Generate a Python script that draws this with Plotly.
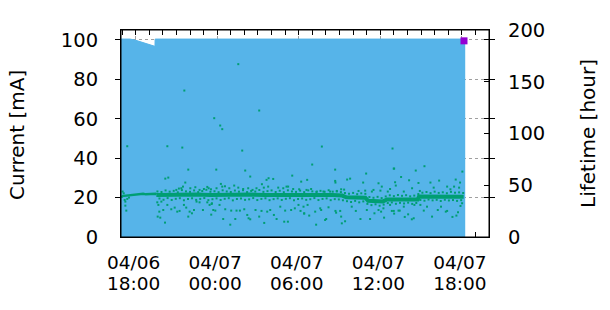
import pandas as pd
import plotly.graph_objects as go

# ---------------- data (hours relative to 04/06 18:00) ----------------
T0 = pd.Timestamp("2023-04-06 18:00")
x_start_hours = -1.08
x_end_hours = 26.0

current_hours = [-1.08, -0.42, -0.05, 0.26, 0.51, 0.74, 0.93, 1.18, 1.42, 1.43, 24.25]
current_mA = [100.4, 100.4, 99.9, 99.3, 98.8, 98.3, 97.7, 97.2, 96.7, 100.4, 100.4]

last_hours = [24.16]
last_current_mA = [99.5]

early_band_hours = [-1.02, -0.85, -0.6, -0.4, -0.37, 0.0, 0.25, 0.55, 0.75, 1.0, 1.2, 1.45, 1.52]
early_band_lifetime = [39.5, 39.8, 39.8, 40.5, 40.8, 41.0, 41.6, 41.8, 41.2, 41.3, 41.9, 41.7, 41.0]

band_hours = [1.52, 2.5, 3.5, 4.5, 5.5, 6.5, 7.5, 8.5, 9.5, 10.5, 11.5, 12.5, 13.5, 14.5,
              15.2, 15.5, 16.2, 16.9, 17.1, 17.6, 18.2, 18.5, 19.2, 19.8, 20.5, 20.75,
              20.85, 21.5, 22.3, 23.0, 23.7, 24.14]
band_lifetime = [40.6, 40.9, 40.7, 41.0, 40.6, 41.0, 40.8, 41.0, 40.7, 40.9, 40.6, 40.8, 40.6, 40.5,
                 40.0, 38.3, 37.8, 38.0, 35.0, 34.3, 34.4, 36.2, 36.4, 35.8, 36.0, 36.2,
                 39.2, 39.3, 39.4, 39.0, 39.2, 39.0]

# points in the fuzzy edges of the band
near_hours = [
    1.6, 1.9, 2.2, 2.5, 2.8, 3.1, 3.4, 3.7, 4.0, 4.3, 4.6, 4.9, 5.2, 5.5, 5.8, 6.1, 6.4, 6.7,
    7.0, 7.3, 7.6, 7.9, 8.2, 8.5, 8.8, 9.1, 9.4, 9.7, 10.0, 10.3, 10.6, 10.9, 11.2, 11.5, 11.8,
    12.1, 12.4, 12.7, 13.0, 13.3, 13.6, 13.9, 14.2, 14.5, 14.8, 15.1, 15.4, 15.7, 16.0, 16.3,
    16.6, 16.9, 17.2, 17.5, 17.8, 18.1, 18.4, 18.7, 19.0, 19.3, 19.6, 19.9, 20.2, 20.5, 20.8,
    21.1, 21.4, 21.7, 22.0, 22.3, 22.6, 22.9, 23.2, 23.5, 23.8, 24.1,
    1.75, 2.05, 2.35, 2.65, 2.95, 3.25, 3.55, 3.85, 4.15, 4.45, 4.75, 5.05, 5.35, 5.65, 5.95,
    6.25, 6.55, 6.85, 7.15, 7.45, 7.75, 8.05, 8.35, 8.65, 8.95, 9.25, 9.55, 9.85, 10.15, 10.45,
    10.75, 11.05, 11.35, 11.65, 11.95, 12.25, 12.55, 12.85, 13.15, 13.45, 13.75, 14.05, 14.35,
    14.65, 14.95, 15.25, 15.55, 15.85, 16.15, 16.45, 16.75, 17.05, 17.35, 17.65, 17.95, 18.25,
    18.55, 18.85, 19.15, 19.45, 19.75, 20.05, 20.35, 20.65, 20.95, 21.25, 21.55, 21.85, 22.15,
    22.45, 22.75, 23.05, 23.35, 23.65, 23.95,
]
near_lifetime = [
    44.0, 43.5, 45.0, 43.8, 44.6, 43.2, 45.3, 44.1, 43.6, 45.0, 43.4, 44.4, 45.6, 43.7, 44.2,
    43.3, 45.1, 44.0, 43.5, 44.9, 43.8, 45.2, 43.4, 44.5, 43.9, 45.4, 43.6, 44.3, 45.0, 43.5,
    44.7, 43.3, 45.1, 44.0, 43.6, 44.8, 43.4, 45.0, 44.1, 43.5, 44.6, 43.7, 45.2, 43.8, 44.0,
    43.4, 42.5, 41.8, 42.6, 41.4, 42.2, 41.7, 38.6, 37.9, 38.8, 37.6, 39.2, 40.3, 39.5, 40.6,
    39.8, 40.4, 39.3, 40.0, 41.5, 42.8, 43.5, 42.4, 43.8, 42.6, 43.2, 42.3, 43.6, 42.8, 43.1,
    42.5,
    37.2, 36.0, 37.6, 35.8, 36.9, 37.5, 35.5, 36.6, 37.4, 35.9, 36.8, 37.6, 35.6, 36.5, 37.3,
    35.8, 36.9, 37.5, 35.4, 36.7, 37.2, 35.9, 36.4, 37.6, 35.7, 36.8, 37.4, 35.6, 36.6, 37.3,
    35.8, 36.9, 37.5, 35.5, 36.7, 37.2, 35.9, 36.5, 37.6, 35.7, 36.8, 37.3, 35.6, 36.6, 36.3,
    35.5, 34.6, 33.8, 34.9, 33.5, 34.4, 32.0, 30.8, 31.6, 30.2, 31.3, 32.8, 33.4, 32.1, 33.0,
    32.4, 33.2, 32.0, 32.9, 35.8, 35.1, 36.2, 35.4, 35.9, 34.8, 36.0, 35.3, 35.7, 34.9, 35.6,
]

scatter_hours = [
    3.58, -0.62, 2.33, 3.43, 3.87, 2.40, 2.18, 3.65, -0.76, -0.69, 2.16, 1.81, 1.62, 3.87, 5.56,
    1.59, 1.67, 1.89, 1.74, 2.03, 2.33, 2.62, 2.87, 3.06, 3.23, 3.55, 3.72, 3.97, 4.14, 4.29, 4.48,
    4.70, 4.95, 5.27, 5.44, 5.61,
    2.99, 3.18, 3.36, 3.48, 4.02, 4.39, 4.70, 5.02, 5.27, 5.37,
    -0.96, -0.88, -0.81, -0.76, -0.62, -0.49, -1.01,
    7.55, 9.09, 5.78, 6.22, 6.37, 7.84, 8.06, 5.93, 8.43, 11.52, 9.63, 9.78, 10.12, 9.29, 11.10,
    11.22, 12.18, 6.27, 6.57, 7.25, 8.28,
    5.59, 5.71, 5.86, 6.17, 6.44, 6.59, 6.96, 7.03, 7.33, 7.42, 7.67, 7.99, 8.21, 8.31, 8.43, 8.82,
    9.09, 9.26, 9.46, 9.68, 9.90, 10.17, 10.37, 10.64, 10.93, 11.00, 11.20, 11.44, 11.71, 11.98,
    12.13, 12.40,
    5.54, 5.95, 6.37, 6.89, 7.55, 7.91, 8.60, 8.89, 9.43, 9.75, 10.49, 10.86, 11.59, 12.03,
    13.70, 18.90, 12.99, 14.68, 14.68, 14.70, 15.56, 15.78, 16.96, 16.74, 17.87, 18.11, 19.02,
    12.62, 18.72, 19.14,
    12.35, 12.40, 12.65, 12.77, 13.21, 13.28, 13.58, 13.65, 13.94, 14.02, 14.19, 14.70, 14.75,
    15.05, 15.12, 15.17, 15.41, 15.90, 16.20, 16.54, 17.25, 17.57, 17.87, 18.06, 18.28, 18.85,
    19.02, 18.72, 18.23, 17.01,
    12.57, 12.91, 13.33, 13.82, 14.31, 14.80, 15.12, 15.34, 16.40, 16.89, 17.38, 17.50, 18.01, 18.55,
    21.25, 20.61, 24.04, 18.99, 19.53, 20.12, 19.09, 20.81, 22.33, 23.55, 23.87, 23.43, 21.69,
    21.93, 22.92, 23.80, 23.16, 20.34, 20.91, 19.73,
    18.99, 19.34, 19.43, 20.05, 20.32, 20.46, 19.80, 21.44, 21.20, 21.81, 22.23, 22.47, 22.82,
    22.92, 23.31, 23.60, 23.72, 23.90, 24.02, 20.95, 20.51, 19.73,
]
scatter_lifetime = [
    141.5, 87.7, 87.7, 86.4, 65.1, 57.4, 56.4, 52.6, 30.3, 25.5, 13.9, 18.7, 19.7, 19.7, 21.6,
    33.5, 31.0, 34.2, 24.5, 26.1, 31.0, 26.8, 28.4, 24.5, 25.2, 31.0, 28.4, 24.5, 22.9, 26.1, 34.2,
    33.5, 26.1, 33.5, 31.0, 32.6,
    45.5, 46.8, 47.1, 48.7, 47.1, 48.1, 45.5, 46.4, 48.4, 47.1,
    43.9, 42.2, 35.8, 34.2, 36.8, 38.1, 39.0,
    167.0, 122.2, 114.8, 107.7, 104.2, 83.5, 64.2, 65.1, 58.4, 59.3, 55.2, 56.8, 56.1, 51.0, 48.7,
    48.7, 53.5, 51.3, 49.0, 49.7, 47.1,
    31.9, 26.1, 25.5, 31.0, 17.4, 26.8, 11.9, 25.5, 17.4, 25.5, 25.5, 26.8, 21.3, 18.1, 17.1, 26.1,
    19.7, 25.2, 13.6, 24.5, 26.1, 21.3, 17.4, 29.3, 14.8, 25.5, 14.8, 26.1, 27.7, 31.0,
    25.2, 22.6,
    46.1, 47.1, 48.7, 47.1, 47.7, 46.4, 45.5, 47.1, 47.7, 48.7, 47.7, 47.1, 46.4, 46.1,
    87.4, 85.5, 70.0, 65.1, 54.2, 52.6, 55.5, 56.4, 61.3, 52.6, 51.9, 48.7, 66.1,
    55.2, 46.4, 49.7,
    29.3, 22.9, 31.0, 20.7, 24.5, 11.9, 27.7, 26.1, 16.4, 17.4, 28.7, 25.2, 23.5,
    25.2, 19.7, 13.2, 15.2, 29.3, 25.2, 17.4, 17.4, 22.9, 26.1, 24.5, 18.7, 25.2,
    22.6, 31.0, 27.7, 26.1,
    45.5, 46.4, 43.9, 43.9, 43.9, 44.5, 46.1, 45.8, 44.5, 44.8, 43.9, 45.5, 44.8, 43.9,
    68.4, 64.2, 63.2, 66.1, 58.0, 54.8, 52.9, 52.2, 54.5, 55.5, 52.6, 48.7, 52.6,
    47.7, 48.7, 47.7, 46.1, 47.1, 44.5, 43.9,
    25.2, 25.5, 25.5, 21.9, 17.1, 18.1, 19.4, 29.3, 25.5, 19.7, 26.1, 29.3, 24.5,
    25.2, 19.4, 20.7, 23.9, 30.0, 32.6, 31.0, 31.0, 29.3,
]

y_left_range = [0, 105]
y_right_range = [0, 200]

BLUE = "#56b4e9"
GREEN = "#009e73"
PURPLE = "#9400d3"
FONT = "DejaVu Sans"
FS = 19.5
FS_X = 18.5


def to_time(hours):
    return [T0 + pd.Timedelta(hours=h) for h in hours]


x_range = [T0 + pd.Timedelta(hours=x_start_hours), T0 + pd.Timedelta(hours=x_end_hours)]

fig = go.Figure()

fig.add_trace(go.Scatter(
    x=to_time(current_hours), y=current_mA, mode="lines",
    line=dict(color=BLUE, width=1), fill="tozeroy", fillcolor=BLUE,
    yaxis="y", hoverinfo="skip"))

fig.add_trace(go.Scatter(
    x=to_time(last_hours), y=last_current_mA, mode="markers",
    marker=dict(symbol="square", size=7, color=PURPLE, line=dict(width=0)),
    yaxis="y", hoverinfo="skip"))

fig.add_trace(go.Scatter(
    x=to_time(early_band_hours), y=early_band_lifetime, mode="lines",
    line=dict(color=GREEN, width=2.5), yaxis="y2", hoverinfo="skip"))

fig.add_trace(go.Scatter(
    x=to_time(band_hours), y=band_lifetime, mode="lines",
    line=dict(color=GREEN, width=4), yaxis="y2", hoverinfo="skip"))

fig.add_trace(go.Scatter(
    x=to_time(near_hours), y=near_lifetime, mode="markers",
    marker=dict(symbol="square", size=2, color=GREEN, line=dict(width=0)),
    yaxis="y2", hoverinfo="skip"))

fig.add_trace(go.Scatter(
    x=to_time(scatter_hours), y=scatter_lifetime, mode="markers",
    marker=dict(symbol="square", size=2, color=GREEN, line=dict(width=0)),
    yaxis="y2", hoverinfo="skip"))

# invisible trace so the second (time-of-day label) x axis is drawn
fig.add_trace(go.Scatter(
    x=x_range, y=[None, None], mode="markers", xaxis="x2", yaxis="y",
    showlegend=False, hoverinfo="skip"))

grid = dict(showgrid=True, gridcolor="#a0a0a0", gridwidth=1, griddash="3px,3px")

fig.update_layout(
    width=610, height=310,
    margin=dict(l=121, r=121, t=30, b=73, pad=0),
    paper_bgcolor="white", plot_bgcolor="white",
    showlegend=False,
    font=dict(family=FONT, size=FS, color="black"),
    xaxis=dict(
        type="date", range=x_range,
        tick0=T0, dtick=6 * 3600000, tickformat="%m/%d",
        tickfont=dict(family=FONT, size=FS_X, color="black"),
        ticks="inside", ticklen=5, tickcolor="black", tickwidth=1,
        mirror="allticks", showline=True, linecolor="black", linewidth=1,
        layer="below traces", zeroline=False, ticklabelstandoff=9, ticklabelshift=-2,
        minor=dict(ticks="inside", ticklen=3, tickcolor="black", dtick=3600000,
                   tick0=T0, showgrid=False),
        **grid),
    xaxis2=dict(
        type="date", range=x_range, overlaying="x", side="bottom", anchor="y",
        tick0=T0, dtick=6 * 3600000, tickformat="%H:%M",
        tickfont=dict(family=FONT, size=FS_X, color="black"),
        ticks="", showline=False, showgrid=False, zeroline=False,
        ticklabelstandoff=33, ticklabelshift=-2, layer="below traces"),
    yaxis=dict(
        range=y_left_range, tick0=0, dtick=20,
        ticks="inside", ticklen=5, tickcolor="black", tickwidth=1,
        mirror="allticks", showline=True, linecolor="black", linewidth=1,
        layer="below traces", zeroline=False, ticklabelstandoff=18,
        **grid),
    yaxis2=dict(
        overlaying="y", side="right",
        range=y_right_range, tick0=0, dtick=50,
        ticks="inside", ticklen=5, tickcolor="black", tickwidth=1,
        showline=False, showgrid=False, zeroline=False,
        layer="below traces", ticklabelstandoff=18),
    shapes=[dict(type="rect", xref="paper", yref="paper", x0=0, x1=1, y0=0, y1=1,
                 line=dict(color="black", width=1), layer="above")],
    annotations=[
        dict(text="Current [mA]", xref="paper", yref="paper", x=-0.2826, y=0.4928,
             textangle=-90, showarrow=False, xanchor="center", yanchor="middle",
             font=dict(family=FONT, size=20, color="black")),
        dict(text="Lifetime [hour]", xref="paper", yref="paper", x=1.269, y=0.5024,
             textangle=-90, showarrow=False, xanchor="center", yanchor="middle",
             font=dict(family=FONT, size=20, color="black")),
    ],
)

fig.write_html("out.html", config={"displayModeBar": False})
